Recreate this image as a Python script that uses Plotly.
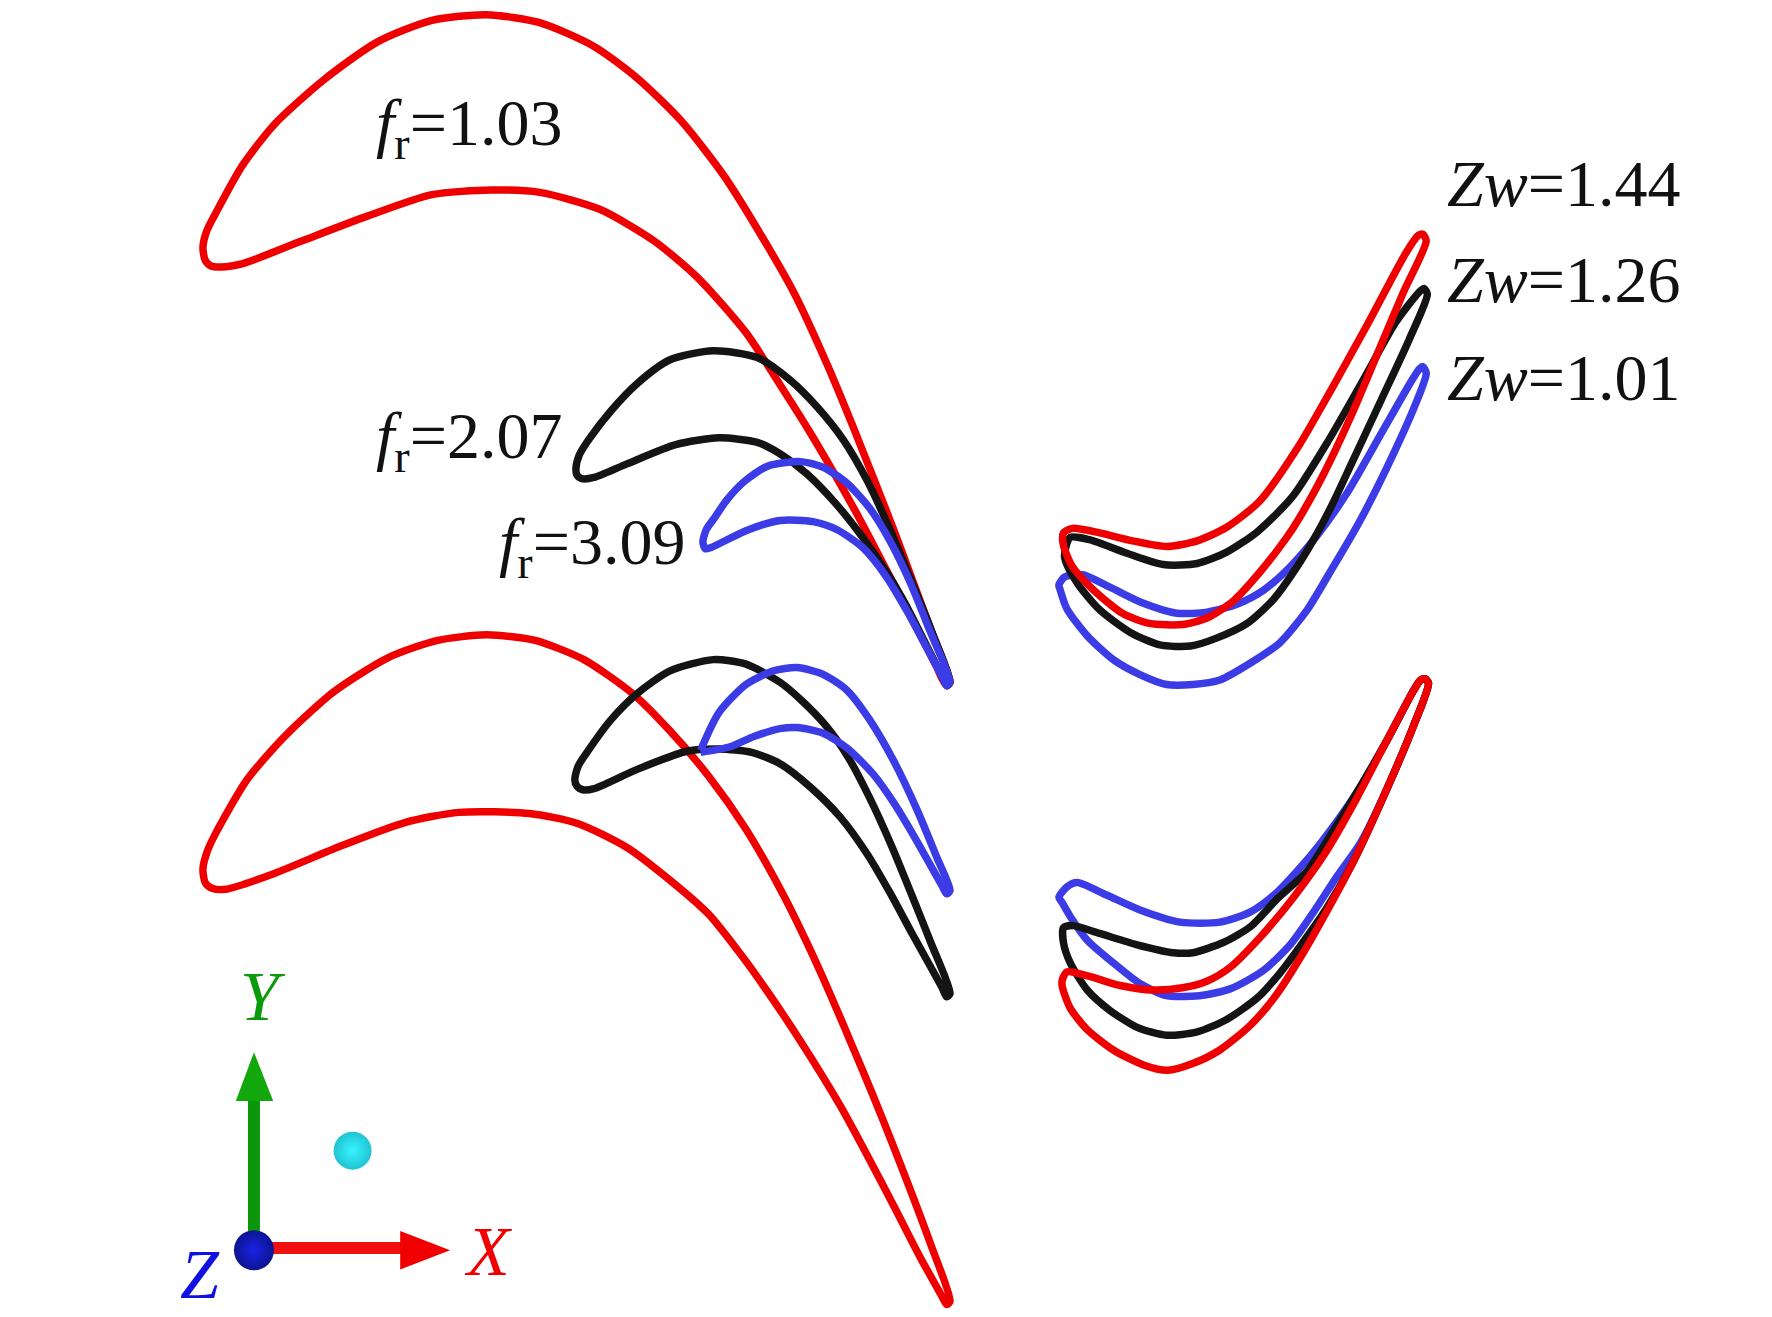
import plotly.graph_objects as go

top_red_x = [179,182,190,214,242,285,333,381,429,476,524,562,601,639,672,701,730,752,771,789,806,822,838,835,831,826,805,782,759,735,712,688,658,615,577,529,476,433,381,324,266,214,195,186,181,179]
top_red_y = [219,205,189,146,110,71,37,18,13,20,41,69,107,156,209,260,323,376,424,470,516,559,603,606,600,589,548,504,460,417,378,340,294,245,213,185,170,168,172,191,213,233,236,235,230,219]
top_black_x = [508,511,519,539,562,591,629,668,697,721,744,765,785,805,823,838,835,831,812,796,779,761,738,712,688,668,634,596,553,524,513,509,508]
top_black_y = [414,402,389,363,339,318,310,316,336,360,389,425,468,516,561,603,606,598,560,529,501,475,446,419,401,391,387,393,410,422,423,420,414]
top_blue_x = [620,623,630,641,656,677,706,726,747,767,785,803,820,838,835,831,814,800,782,761,738,717,688,658,627,622,620]
top_blue_y = [479,468,458,442,426,412,408,413,427,449,478,515,557,603,606,598,566,540,510,484,468,461,460,469,484,485,479]

low_red_x = [179,183,190,218,252,295,343,386,429,472,515,558,591,625,658,691,714,732,752,770,788,805,821,838,835,831,811,791,767,741,706,676,653,625,591,553,510,467,405,357,300,242,199,187,181,179]
low_red_y = [768,752,737,689,650,611,581,566,561,566,583,613,646,686,733,791,838,878,925,968,1013,1057,1100,1150,1153,1146,1110,1071,1025,977,920,875,843,808,778,749,728,719,718,727,748,772,786,785,780,768]
low_black_x = [507,510,517,539,562,591,629,658,688,708,729,748,767,787,805,821,838,835,831,805,785,765,741,714,688,663,634,606,562,524,514,509,507]
low_black_y = [689,677,666,636,613,593,583,587,603,620,642,669,705,749,793,833,878,881,873,826,789,755,722,695,675,665,662,664,680,697,698,695,689]
low_blue_x = [618,634,658,682,703,726,747,767,788,809,826,838,835,831,805,788,770,747,726,703,688,665,644,618]
low_blue_y = [663,630,605,593,590,596,610,636,672,716,757,787,790,783,737,709,684,661,648,643,644,651,660,665]

rt_red_x = [938,946,970,999,1029,1056,1082,1111,1145,1175,1206,1241,1251,1255,1258,1238,1219,1192,1167,1146,1135,1111,1088,1065,1043,1014,990,964,946,938,938]
rt_red_y = [471,467,471,478,483,478,466,443,395,343,287,222,208,207,213,258,303,367,420,458,475,506,531,546,552,551,542,521,501,482,471]
rt_black_x = [944,961,994,1026,1056,1082,1109,1140,1172,1204,1231,1251,1256,1259,1243,1219,1192,1177,1162,1144,1123,1100,1073,1050,1023,997,970,950,939,944]
rt_black_y = [475,477,489,499,498,488,470,439,389,333,285,259,255,260,300,352,410,442,471,501,530,551,564,571,570,559,539,515,492,475]
rt_blue_x = [934,939,955,979,1008,1038,1065,1091,1114,1138,1162,1188,1219,1243,1252,1255,1258,1247,1223,1204,1189,1173,1153,1129,1103,1076,1052,1029,1005,982,959,941,935,934]
rt_blue_y = [517,510,508,519,533,542,541,534,522,501,473,436,382,340,326,324,330,361,414,452,479,506,539,568,586,601,605,605,596,583,562,538,521,517]

rb_red_x = [937,941,961,988,1017,1043,1065,1085,1111,1138,1158,1172,1197,1223,1247,1253,1257,1260,1247,1223,1194,1170,1149,1126,1103,1076,1052,1030,1008,982,959,944,937,937]
rb_red_y = [866,859,863,871,875,873,867,855,829,797,770,749,705,655,610,601,600,604,641,698,761,806,843,879,906,928,940,946,941,928,910,891,872,866]
rb_black_x = [938,946,970,1003,1035,1052,1079,1103,1126,1153,1173,1200,1223,1247,1253,1257,1260,1247,1223,1194,1170,1147,1129,1109,1082,1056,1029,1003,979,959,944,938,938]
rb_black_y = [820,818,825,835,842,842,833,819,795,770,739,695,655,610,601,600,604,641,698,761,803,836,860,882,901,912,915,908,893,875,851,833,820]
rb_blue_x = [934,941,950,976,1005,1041,1076,1103,1126,1145,1165,1197,1223,1247,1253,1257,1260,1247,1223,1200,1179,1158,1138,1114,1085,1058,1029,1005,982,959,944,937,934]
rb_blue_y = [793,784,780,791,804,815,815,806,789,769,745,700,655,610,601,600,604,641,698,745,775,807,835,858,874,880,880,869,851,831,810,798,793]

# Coordinate triad
y_shaft_x, y_shaft_y = [224, 224], [1103, 968]
y_head_x, y_head_y = [224, 208, 241, 224], [930, 973, 973, 930]
x_shaft_x, x_shaft_y = [224, 355], [1103, 1103]
x_head_x, x_head_y = [397, 353, 353, 397], [1105, 1088, 1122, 1105]
origin_x, origin_y = [224], [1105]
probe_x, probe_y = [311], [1017]

# Labels
fr_labels = ["<i>f</i><sub>r</sub>=1.03", "<i>f</i><sub>r</sub>=2.07", "<i>f</i><sub>r</sub>=3.09"]
fr_x = [330, 330, 438]
fr_y = [113, 389, 483]
zw_labels = ["<i>Zw</i>=1.44", "<i>Zw</i>=1.26", "<i>Zw</i>=1.01"]
zw_x = [1275, 1275, 1275]
zw_y = [162, 247, 334]
axis_labels = ["Y", "X", "Z"]
axis_label_x = [232, 431, 176]
axis_label_y = [881, 1106, 1126]

RED, BLACK, BLUE = "#ee0000", "#141414", "#3c3ce6"
FONT = "Liberation Serif"

fig = go.Figure()

def outline(x, y, color, width=7.5):
    fig.add_trace(go.Scatter(x=x, y=y, mode="lines", line=dict(color=color, width=width, shape="spline", smoothing=0.7),
                             hoverinfo="skip", showlegend=False))

for x, y, c in [
    (top_red_x, top_red_y, RED), (top_black_x, top_black_y, BLACK), (top_blue_x, top_blue_y, BLUE),
    (low_red_x, low_red_y, RED), (low_black_x, low_black_y, BLACK), (low_blue_x, low_blue_y, BLUE),
    (rt_blue_x, rt_blue_y, BLUE), (rt_black_x, rt_black_y, BLACK), (rt_red_x, rt_red_y, RED),
    (rb_blue_x, rb_blue_y, BLUE), (rb_black_x, rb_black_y, BLACK), (rb_red_x, rb_red_y, RED),
]:
    outline(x, y, c)

fig.add_trace(go.Scatter(x=y_shaft_x, y=y_shaft_y, mode="lines", line=dict(color="#0c960c", width=12), hoverinfo="skip", showlegend=False))
fig.add_trace(go.Scatter(x=y_head_x, y=y_head_y, mode="lines", fill="toself", fillcolor="#12a80c", line=dict(width=0, color="#12a80c"), hoverinfo="skip", showlegend=False))
fig.add_trace(go.Scatter(x=x_shaft_x, y=x_shaft_y, mode="lines", line=dict(color="#f01010", width=12), hoverinfo="skip", showlegend=False))
fig.add_trace(go.Scatter(x=x_head_x, y=x_head_y, mode="lines", fill="toself", fillcolor="#f00000", line=dict(width=0, color="#f00000"), hoverinfo="skip", showlegend=False))
fig.add_trace(go.Scatter(x=origin_x, y=origin_y, mode="markers", hoverinfo="skip", showlegend=False,
                         marker=dict(size=40, color="#0c1490", line=dict(width=0), gradient=dict(type="radial", color="#1a22e8"))))
fig.add_trace(go.Scatter(x=probe_x, y=probe_y, mode="markers", hoverinfo="skip", showlegend=False,
                         marker=dict(size=38, color="#20c4d4", line=dict(width=0), gradient=dict(type="radial", color="#38f4fc"))))

for t, x, y in zip(fr_labels + zw_labels, fr_x + zw_x, fr_y + zw_y):
    fig.add_annotation(x=x, y=y, text=t, showarrow=False, xanchor="left", yanchor="middle",
                       font=dict(family=FONT, size=66, color="#111111"))
for t, x, y, c in zip(axis_labels, axis_label_x, axis_label_y, ["#0a9a0a", "#f00000", "#1010e0"]):
    fig.add_annotation(x=x, y=y, text=t, showarrow=False, font=dict(family=FONT, size=70, color=c, style="italic"))

fig.update_layout(width=1772, height=1317, margin=dict(l=0, r=0, t=0, b=0), plot_bgcolor="white", paper_bgcolor="white",
                  showlegend=False,
                  xaxis=dict(range=[0, 1563], visible=False, fixedrange=True),
                  yaxis=dict(range=[1164, 0], visible=False, fixedrange=True))
fig.write_html("out.html", post_script="document.body.style.margin='0';document.body.style.overflow='hidden';", config={"displayModeBar": False})
